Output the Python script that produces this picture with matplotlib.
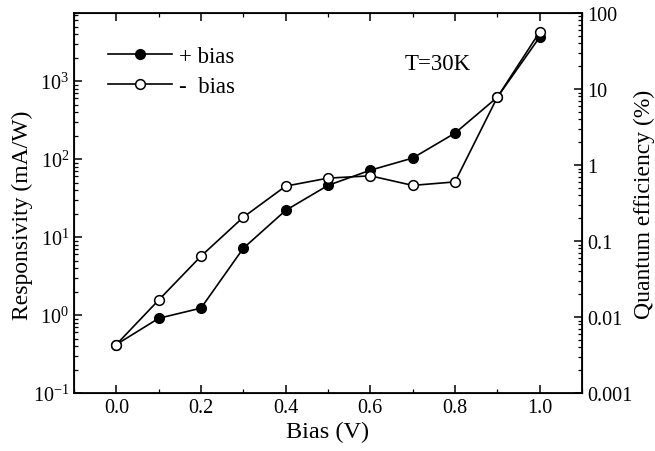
import matplotlib
matplotlib.use('Agg')
import matplotlib.pyplot as plt
from matplotlib.ticker import LogLocator, FixedLocator, FuncFormatter

plt.rcParams['font.family'] = ['Liberation Serif', 'DejaVu Serif']
plt.rcParams['mathtext.fontset'] = 'stix'

# data
bias = [0.0, 0.1, 0.2, 0.3, 0.4, 0.5, 0.6, 0.7, 0.8, 0.9, 1.0]
resp_pos = [0.42, 0.91, 1.23, 7.2, 22, 46, 72, 103, 215, 620, 3650]
resp_neg = [0.42, 1.56, 5.7, 18, 45, 57, 61, 46, 51, 620, 4250]

fig = plt.figure(figsize=(6.55, 4.52), dpi=100)
ax = fig.add_axes([0.113, 0.128, 0.7755, 0.841])

ax.plot(bias, resp_pos, '-o', color='black', lw=1.2, ms=7,
        mfc='black', mec='black', label='+ bias')
ax.plot(bias, resp_neg, '-o', color='black', lw=1.2, ms=7,
        mfc='white', mec='black', mew=1.1, label='-  bias')

ax.set_yscale('log')
ax.set_xlim(-0.1, 1.1)
ax.set_ylim(0.1, 7450)
ax.xaxis.set_major_locator(FixedLocator([0.0, 0.2, 0.4, 0.6, 0.8, 1.0]))
ax.xaxis.set_minor_locator(FixedLocator([-0.1, 0.1, 0.3, 0.5, 0.7, 0.9, 1.1]))
ax.xaxis.set_major_formatter(FuncFormatter(lambda v, p: '%.1f' % v))
ax.yaxis.set_major_locator(LogLocator(base=10, numticks=10))
ax.yaxis.set_minor_locator(LogLocator(base=10, subs=range(2, 10), numticks=10))

ax.tick_params(which='both', direction='in', top=True, right=False, labelsize=14.5)
ax.tick_params(which='major', length=6, width=1.1)
ax.tick_params(which='minor', length=3, width=0.9)
for s in ax.spines.values():
    s.set_linewidth(1.3)

ax.set_xlabel('Bias (V)', fontsize=17.5, labelpad=3)
ax.set_ylabel('Responsivity (mA/W)', fontsize=17)
ax.yaxis.set_label_coords(-0.08, 0.47)

ax.legend(loc='upper left', bbox_to_anchor=(0.067, 0.913), frameon=False,
          borderpad=0, borderaxespad=0,
          fontsize=16.5, handlelength=2.8, handletextpad=0.3, labelspacing=0.4)
ax.text(0.682, 1700, 'T=30K', fontsize=16.5, va='center')

ax2 = ax.twinx()
ax2.set_yscale('log')
ax2.set_ylim(0.001, 100)
ax2.yaxis.set_major_locator(LogLocator(base=10, numticks=10))
ax2.yaxis.set_minor_locator(LogLocator(base=10, subs=range(2, 10), numticks=10))
ax2.yaxis.set_major_formatter(FuncFormatter(lambda v, p: ('%g' % v)))
ax2.tick_params(which='both', direction='in', labelsize=14.5)
ax2.tick_params(which='major', length=6, width=1.1)
ax2.tick_params(which='minor', length=3, width=0.9)
ax2.set_ylabel('Quantum efficiency (%)', fontsize=17, labelpad=1)

fig.savefig('out.png', dpi=100)
